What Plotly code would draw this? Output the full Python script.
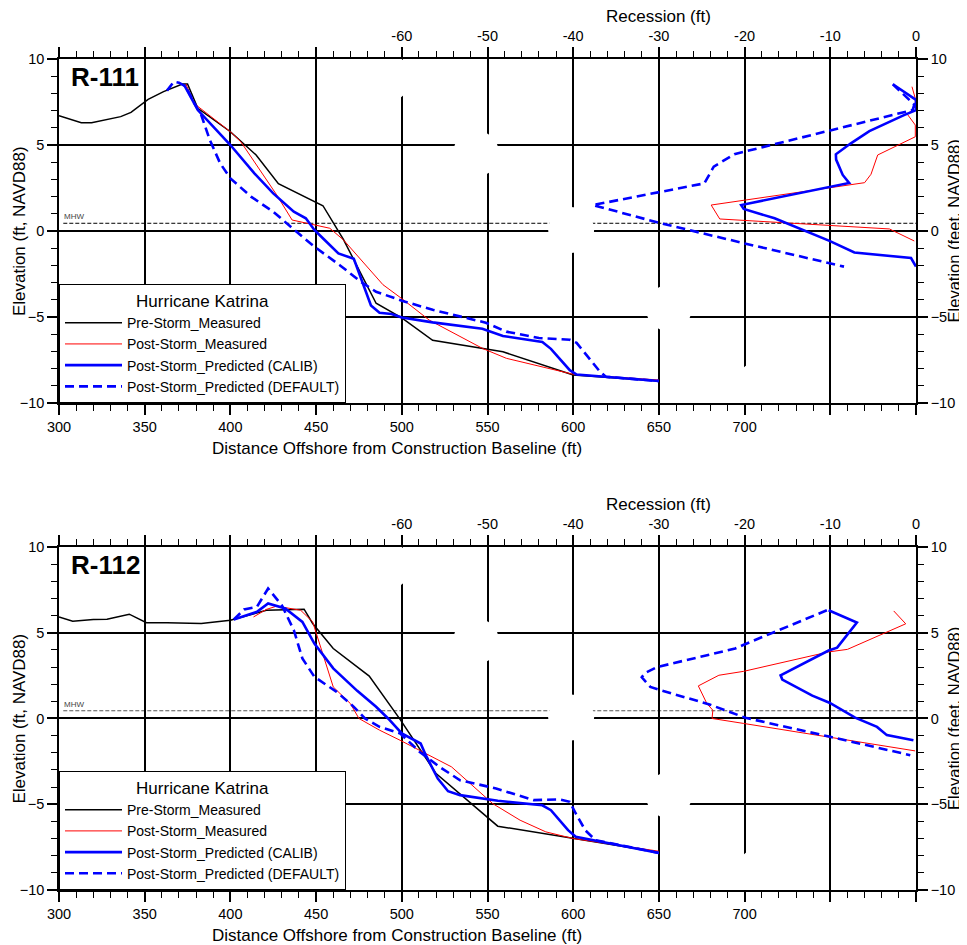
import plotly.graph_objects as go

FONT = "Liberation Sans, Arial, sans-serif"

# ---------------- data (R-111) ----------------
r111_pre_x = [300, 313, 319, 336, 342, 352, 361, 372, 375, 381, 400, 415, 428, 454, 466, 485, 500, 518, 559, 600, 650]
r111_pre_y = [6.7, 6.3, 6.3, 6.65, 6.9, 7.65, 8.1, 8.55, 8.55, 7.13, 5.77, 4.42, 2.75, 1.47, -0.5, -4.2, -5.05, -6.35, -7.02, -8.37, -8.72]
r111_post_x = [374, 379, 400, 406, 427, 436, 458, 466, 489, 500, 516, 547, 561, 600, 650]
r111_post_y = [8.55, 7.4, 5.77, 5.2, 2.1, 0.64, 0.16, -0.52, -3.12, -3.93, -5.18, -6.82, -7.4, -8.33, -8.66]
r111_calib_x = [373, 381, 400, 414, 425, 437, 444, 449, 455, 463, 472, 482, 487, 494, 500, 518, 547, 559, 582, 587, 598, 602, 650]
r111_calib_y = [8.5, 7.03, 5.0, 3.35, 2.19, 1.12, 0.74, 0.06, -0.52, -1.3, -1.62, -4.33, -4.75, -4.82, -5.03, -5.31, -5.68, -6.1, -6.45, -6.85, -8.09, -8.34, -8.72]
r111_default_x = [363, 367, 370, 374, 379, 383, 388, 394, 400, 412, 425, 435, 443, 449, 464, 476, 485, 500, 518, 549, 561, 580, 598, 602, 608, 615, 619, 650]
r111_default_y = [8.16, 8.68, 8.62, 8.39, 7.42, 6.74, 5.29, 3.94, 3.06, 2.0, 1.12, 0.25, -0.42, -0.91, -2.0, -2.94, -3.53, -4.05, -4.58, -5.33, -5.85, -6.22, -6.32, -6.5, -7.25, -8.1, -8.47, -8.72]

r111_rec_post_r = [-0.47, -0.08, -0.08, -1.0, -0.08, -0.08, -4.47, -5.25, -6.0, -23.9, -22.9, -5.05, -3.1, -0.2]
r111_rec_post_y = [8.39, 7.7, 7.23, 6.78, 6.16, 5.48, 4.42, 3.3, 2.81, 1.51, 0.7, 0.21, 0.12, -0.58]
r111_rec_calib_r = [-2.7, -0.4, 0.0, 0.0, -1.4, -5.44, -7.6, -9.35, -9.32, -8.55, -7.8, -20.4, -20.1, -16.5, -10.1, -7.19, -0.58, 0.0]
r111_rec_calib_y = [8.53, 7.71, 7.62, 7.03, 6.74, 5.81, 5.1, 4.46, 4.15, 3.26, 2.79, 1.51, 1.28, 0.74, -0.57, -1.25, -1.57, -2.07]
r111_rec_default_r = [-2.7, -0.2, -0.4, -16.9, -21.2, -23.6, -24.7, -37.7, -30.0, -20.0, -8.4]
r111_rec_default_y = [8.53, 7.35, 7.03, 5.0, 4.47, 3.74, 2.77, 1.51, 0.48, -0.72, -2.07]

# ---------------- data (R-112) ----------------
r112_pre_x = [300, 308, 320, 328, 341, 351, 363, 383, 400, 421, 443, 448, 460, 481, 499, 520, 556, 600, 650]
r112_pre_y = [5.92, 5.67, 5.77, 5.79, 6.08, 5.58, 5.58, 5.54, 5.73, 6.31, 6.37, 5.54, 4.08, 2.47, -0.05, -3.21, -6.28, -7.0, -7.8]
r112_post_x = [413.5, 421, 427, 441, 448, 455, 460, 470, 475, 487, 499, 529, 553, 569, 584, 600, 650]
r112_post_y = [5.92, 6.36, 6.55, 6.31, 5.63, 3.5, 1.84, 0.87, 0.0, -0.68, -1.27, -2.82, -4.96, -5.93, -6.61, -7.0, -7.74]
r112_calib_x = [402, 415.5, 422, 432, 442, 449, 460, 474, 485, 492, 500, 511, 514, 521, 527, 534, 556, 582, 587, 597, 601.5, 650]
r112_calib_y = [5.77, 6.22, 6.71, 6.41, 5.63, 4.37, 2.92, 1.61, 0.68, 0.0, -0.87, -1.46, -2.14, -3.5, -4.24, -4.47, -4.8, -5.06, -5.35, -6.51, -6.9, -7.84]
r112_default_x = [402, 408, 415.5, 422, 430, 437, 442, 449, 462, 472, 478.5, 487, 499, 510.5, 522, 534, 555, 577, 592, 598, 601.5, 607, 613, 650]
r112_default_y = [5.77, 6.36, 6.51, 7.58, 6.6, 5.15, 3.5, 2.43, 1.55, 0.68, 0.0, -0.49, -0.87, -1.95, -2.82, -3.6, -4.08, -4.76, -4.72, -4.86, -5.54, -6.51, -7.1, -7.84]

r112_rec_post_r = [-2.6, -1.2, -8.0, -10.2, -20.1, -23.0, -25.4, -24.4, -23.7, -23.8, -20.1, -10.0, -0.1]
r112_rec_post_y = [6.27, 5.52, 4.03, 3.88, 2.75, 2.52, 1.9, 0.87, 0.48, 0.0, -0.29, -1.11, -1.89]
r112_rec_calib_r = [-10.2, -6.9, -9.2, -10.2, -15.8, -15.6, -12.1, -10.1, -7.1, -4.55, -3.4, -0.3]
r112_rec_calib_y = [6.31, 5.6, 4.13, 3.96, 2.52, 2.27, 1.33, 0.92, 0.05, -0.49, -0.97, -1.27]
r112_rec_default_r = [-10.4, -16.6, -20.1, -21.1, -30.2, -31.6, -32.0, -31.0, -30.0, -24.0, -19.9, -10.0, -0.67]
r112_rec_default_y = [6.31, 5.05, 4.3, 4.08, 3.0, 2.66, 2.4, 1.84, 1.68, 0.8, 0.04, -1.07, -2.14]

MHW = 0.45
series_names = ["Pre-Storm_Measured", "Post-Storm_Measured",
                "Post-Storm_Predicted (CALIB)", "Post-Storm_Predicted (DEFAULT)"]
panel_labels = ["R-111", "R-112"]
dist_ticks = list(range(300, 801, 50))
dist_labels = [str(v) if v <= 700 else "" for v in dist_ticks]
rec_ticks = list(range(-100, 1, 10))
rec_labels = [str(v) if v >= -60 else "" for v in rec_ticks]
elev_ticks = [-10, -5, 0, 5, 10]

# ---------------- styles ----------------
STYLES = [
    dict(color="black", width=1.5, dash="solid"),
    dict(color="#ff0000", width=1, dash="solid"),
    dict(color="#0000ff", width=2.6, dash="solid"),
    dict(color="#0000ff", width=2.6, dash="9px,5px"),
]
# white "break" blobs across the grid (x in ft, y in ft)
GAP_CENTERS = [(492.2, 8.9), (543.3, 4.5), (598.8, 0.06), (655.8, -4.48), (708.1, -8.95)]
GAP_RX, GAP_RY = 13.4, 1.34

# page geometry (the page body adds an 8px offset)
W, H = 959, 937
ML, MR, MT, MB = 50, 50, 51, 55
PLOT_H = H - MT - MB          # 831
PLOT_W = W - ML - MR          # 859
OFF = 8

fig = go.Figure()

panels = [
    dict(label=panel_labels[0], xa="x", xr="x2", ya="y", yr="y2", legend="legend", dom=[0.586, 1.0],
         prof=[(r111_pre_x, r111_pre_y), (r111_post_x, r111_post_y), (r111_calib_x, r111_calib_y), (r111_default_x, r111_default_y)],
         rec=[None, (r111_rec_post_r, r111_rec_post_y), (r111_rec_calib_r, r111_rec_calib_y), (r111_rec_default_r, r111_rec_default_y)],
         mhwcolor="black"),
    dict(label=panel_labels[1], xa="x3", xr="x4", ya="y3", yr="y4", legend="legend2", dom=[0.0, 0.4128],
         prof=[(r112_pre_x, r112_pre_y), (r112_post_x, r112_post_y), (r112_calib_x, r112_calib_y), (r112_default_x, r112_default_y)],
         rec=[None, (r112_rec_post_r, r112_rec_post_y), (r112_rec_calib_r, r112_rec_calib_y), (r112_rec_default_r, r112_rec_default_y)],
         mhwcolor="#555555"),
]

for p in panels:
    for i, (xs, ys) in enumerate(p["prof"]):
        fig.add_trace(go.Scatter(x=xs, y=ys, mode="lines", name=series_names[i],
                                 line=STYLES[i], xaxis=p["xa"], yaxis=p["ya"],
                                 legend=p["legend"], showlegend=True, hoverinfo="skip"))
    for i, rec in enumerate(p["rec"]):
        if rec is None:
            continue
        fig.add_trace(go.Scatter(x=rec[0], y=rec[1], mode="lines", name=series_names[i] + " recession",
                                 line=STYLES[i], xaxis=p["xr"], yaxis=p["yr"],
                                 showlegend=False, hoverinfo="skip"))

tickfont = dict(family=FONT, size=14.5, color="black")
common = dict(showline=True, linecolor="black", linewidth=1.5, ticks="outside", ticklen=10,
              tickwidth=1.5, tickcolor="black", zeroline=False, tickfont=tickfont, fixedrange=True)

def minor(vals):
    return dict(tickmode="array", tickvals=vals, ticks="outside", ticklen=6,
                tickwidth=1, tickcolor="black", showgrid=False)

dist_minor = [v for v in range(300, 801, 10) if v % 50]
rec_minor = [v for v in range(-100, 1, 2) if v % 10]
elev_minor = [v for v in range(-10, 11) if v % 5]

layout = dict(
    width=W, height=H,
    margin=dict(l=ML, r=MR, t=MT, b=MB),
    paper_bgcolor="white", plot_bgcolor="white",
    font=dict(family=FONT, size=14, color="black"),
    showlegend=True,
)

def py2paper(py):
    # page pixel y -> paper fraction
    return (OFF + MT + PLOT_H - py) / float(PLOT_H)

def px2paper(px):
    return (px - OFF - ML) / float(PLOT_W)

annotations = []
shapes = []
for p in panels:
    xk = "xaxis" + p["xa"][1:]
    xrk = "xaxis" + p["xr"][1:]
    yk = "yaxis" + p["ya"][1:]
    yrk = "yaxis" + p["yr"][1:]
    layout[xk] = dict(domain=[0, 1], anchor=p["ya"], side="bottom", range=[300, 800],
                      tickmode="array", tickvals=dist_ticks, ticktext=dist_labels,
                      minor=minor(dist_minor), showgrid=True, gridcolor="black", gridwidth=1.5, **common)
    layout[xrk] = dict(overlaying=p["xa"], anchor=p["yr"], side="top", range=[-100, 0],
                       tickmode="array", tickvals=rec_ticks, ticktext=rec_labels,
                       minor=minor(rec_minor), showgrid=False, **common)
    layout[yk] = dict(domain=p["dom"], anchor=p["xa"], side="left", range=[-10, 10],
                      tickmode="array", tickvals=elev_ticks, minor=minor(elev_minor),
                      showgrid=True, gridcolor="black", gridwidth=1.5, **common)
    layout[yrk] = dict(domain=p["dom"], overlaying=p["ya"], anchor=p["xr"], side="right", range=[-10, 10],
                       tickmode="array", tickvals=elev_ticks, minor=minor(elev_minor),
                       showgrid=False, **common)

    top_py = OFF + MT + (1 - p["dom"][1]) * PLOT_H
    bot_py = OFF + MT + (1 - p["dom"][0]) * PLOT_H

    # panel label
    annotations.append(dict(text="<b>%s</b>" % p["label"], xref=p["xa"] + " domain", yref=p["ya"] + " domain",
                            x=0.012, y=0.948, xanchor="left", yanchor="middle", showarrow=False,
                            font=dict(family=FONT, size=26, color="black")))
    # MHW
    annotations.append(dict(text="MHW", xref=p["xa"], yref=p["ya"], x=302, y=MHW, xanchor="left", yanchor="bottom",
                            showarrow=False, font=dict(family=FONT, size=8, color="#444")))
    shapes.append(dict(type="line", xref=p["xa"] + " domain", yref=p["ya"], x0=0.005, x1=1, y0=MHW, y1=MHW,
                       line=dict(color=p["mhwcolor"], width=1, dash="4px,2px"), layer="below"))
    # axis titles
    annotations.append(dict(text="Recession (ft)", xref=p["xr"], yref="paper", x=-30,
                            y=py2paper(top_py - 42), xanchor="center", yanchor="middle", showarrow=False,
                            font=dict(family=FONT, size=17, color="black")))
    annotations.append(dict(text="Distance Offshore from Construction Baseline (ft)", xref=p["xa"], yref="paper",
                            x=497, y=py2paper(bot_py + 45.5), xanchor="center", yanchor="middle", showarrow=False,
                            font=dict(family=FONT, size=17, color="black")))
    mid = (p["dom"][0] + p["dom"][1]) / 2
    annotations.append(dict(text="Elevation (ft, NAVD88)", xref="paper", yref="paper", x=px2paper(18),
                            y=mid, xanchor="center", yanchor="middle", textangle=-90, showarrow=False,
                            font=dict(family=FONT, size=17, color="black")))
    annotations.append(dict(text="Elevation (feet, NAVD88)", xref="paper", yref="paper", x=px2paper(955.5),
                            y=mid, xanchor="center", yanchor="middle", textangle=-90, showarrow=False,
                            font=dict(family=FONT, size=16.5, color="black")))
    # break blobs
    for cx, cy in GAP_CENTERS:
        shapes.append(dict(type="circle", xref=p["xa"], yref=p["ya"], x0=cx - GAP_RX, x1=cx + GAP_RX,
                           y0=cy - GAP_RY, y1=cy + GAP_RY, fillcolor="white", line=dict(width=0),
                           layer="above"))
    # legend
    layout[p["legend"]] = dict(x=0, y=p["dom"][0], xref="paper", yref="paper", xanchor="left", yanchor="bottom",
                               bgcolor="white", bordercolor="black", borderwidth=1,
                               font=dict(family=FONT, size=14, color="black"),
                               title=dict(text="Hurricane Katrina", side="top center",
                                          font=dict(family=FONT, size=17, color="black")),
                               itemwidth=57, tracegroupgap=0)

layout["annotations"] = annotations
layout["shapes"] = shapes
fig.update_layout(**layout)

fig.write_html("out.html")
